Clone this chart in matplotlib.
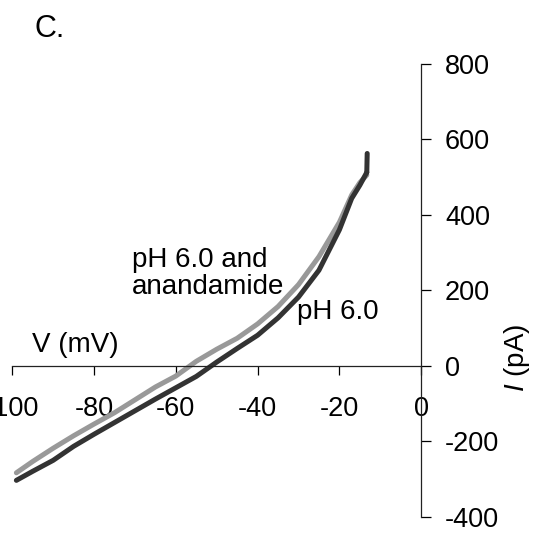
import matplotlib
matplotlib.use("Agg")
import matplotlib.pyplot as plt

plt.rcParams['font.family'] = ['Liberation Sans', 'DejaVu Sans']
plt.rcParams['axes.unicode_minus'] = False
plt.rcParams['mathtext.fontset'] = 'custom'
plt.rcParams['mathtext.it'] = 'Liberation Sans:italic'
plt.rcParams['mathtext.rm'] = 'Liberation Sans'

# membrane potential (mV) and currents (pA)
voltaje = [-99, -95, -90, -85, -80, -75, -70, -65, -60, -55, -50, -45,
           -40, -35, -30, -25, -20, -17, -15, -13.3]
corriente_ph6 = [-303, -279, -250, -213, -181, -150, -119, -88, -58, -28, 10, 46,
                 81, 127, 182, 253, 360, 443, 478, 512]
corriente_anandamida = [-283, -253, -218, -185, -154, -124, -90, -56, -27, 12, 44, 73,
                        111, 157, 215, 289, 380, 452, 485, 505]
# final jump of the pH 6.0 trace
salto_v = [-13.3, -13.2]
salto_i = [512, 562]

xticks = [-100, -80, -60, -40, -20, 0]
yticks = [-400, -200, 0, 200, 400, 600, 800]

fig = plt.figure(figsize=(5.41, 5.33), dpi=100)
ax = fig.add_axes([0.0227, 0.030, 0.7558, 0.8508])

ax.plot(voltaje, corriente_anandamida, color='#999999', lw=3.6, solid_capstyle='round')
ax.plot(voltaje, corriente_ph6, color='#333333', lw=3.6, solid_capstyle='round')
ax.plot(salto_v, salto_i, color='#333333', lw=3.6, solid_capstyle='round')

ax.set_xlim(-100, 0)
ax.set_ylim(-400, 800)

ax.spines['top'].set_visible(False)
ax.spines['left'].set_visible(False)
ax.spines['bottom'].set_position(('data', 0))
for s in ('bottom', 'right'):
    ax.spines[s].set_linewidth(0.9)
    ax.spines[s].set_color('#222222')

ax.yaxis.tick_right()
ax.set_xticks(xticks)
ax.set_yticks(yticks)
ax.set_xticklabels([str(v) for v in xticks])
ax.set_yticklabels([str(v) for v in yticks])
ax.tick_params(axis='x', direction='out', length=6.5, width=0.9, pad=15, labelsize=19.5)
ax.tick_params(axis='y', direction='out', length=7.2, width=0.9, pad=10, labelsize=19.5)

ax.text(-95.1, 37, 'V (mV)', fontsize=20, ha='left', va='baseline')
ax.text(-70.7, 189, 'pH 6.0 and\nanandamide', fontsize=20, ha='left', va='baseline',
        linespacing=1.05)
ax.text(-30.3, 123, 'pH 6.0', fontsize=20, ha='left', va='baseline')

fig.text(517 / 541, 1 - 358 / 533, r'$I$ (pA)', fontsize=20, rotation=90,
         ha='center', va='center')
fig.text(35 / 541, 1 - 37 / 533, 'C.', fontsize=22, ha='left', va='baseline')

fig.savefig('out.png', dpi=100)
